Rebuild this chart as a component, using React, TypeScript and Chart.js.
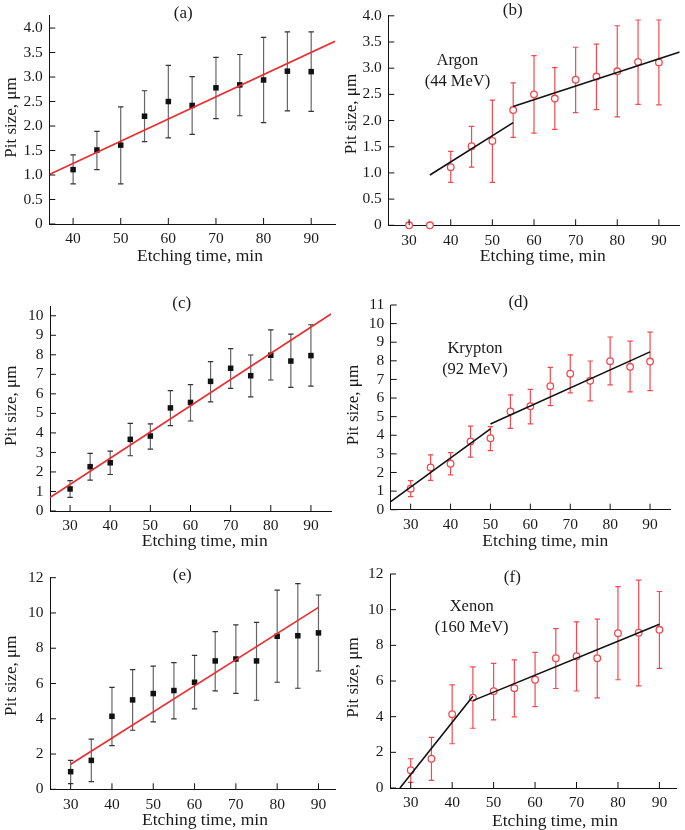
import React, { useEffect, useRef } from 'react';
import { Chart, registerables } from 'chart.js';
Chart.register(...registerables);

// ---------- DATA ----------
// Argon (44 MeV)
const argonTime = [40, 45, 50, 55, 60, 65, 70, 75, 80, 85, 90];
const argonSize = [1.11, 1.51, 1.61, 2.2, 2.5, 2.42, 2.78, 2.84, 2.94, 3.12, 3.11];
const argonUpper = [1.41, 1.89, 2.39, 2.72, 3.24, 3.01, 3.4, 3.46, 3.81, 3.92, 3.92];
const argonLower = [0.82, 1.11, 0.82, 1.68, 1.76, 1.83, 2.15, 2.21, 2.07, 2.31, 2.3];
const argonZeroTime = [30, 35];
const argonZeroSize = [0, 0];
const argonFitX = [35, 95];
const argonFitY = [1.01, 3.73];
const argonSeg1X = [35, 55];
const argonSeg1Y = [0.96, 1.96];
const argonSeg2X = [55, 95];
const argonSeg2Y = [2.27, 3.31];

// Krypton (92 MeV)
const kryptonTime = [30, 35, 40, 45, 50, 55, 60, 65, 70, 75, 80, 85, 90];
const kryptonSize = [1.13, 2.27, 2.47, 3.67, 3.84, 5.28, 5.56, 6.64, 7.31, 6.93, 7.98, 7.68, 7.96];
const kryptonUpper = [1.56, 2.95, 3.07, 4.49, 4.46, 6.17, 6.47, 7.65, 8.32, 7.99, 9.28, 9.06, 9.54];
const kryptonLower = [0.7, 1.58, 1.87, 2.83, 3.17, 4.37, 4.61, 5.59, 6.28, 5.85, 6.71, 6.33, 6.4];
const kryptonFitX = [25, 95];
const kryptonFitY = [0.69, 10.09];
const kryptonSeg1X = [25, 50];
const kryptonSeg1Y = [0.43, 4.34];
const kryptonSeg2X = [50, 90];
const kryptonSeg2Y = [4.61, 8.48];

// Xenon (160 MeV)
const xenonTime = [30, 35, 40, 45, 50, 55, 60, 65, 70, 75, 80, 85, 90];
const xenonSize = [1.0, 1.64, 4.14, 5.07, 5.43, 5.6, 6.07, 7.28, 7.39, 7.28, 8.68, 8.71, 8.87];
const xenonUpper = [1.64, 2.84, 5.78, 6.79, 6.99, 7.18, 7.6, 8.94, 9.32, 9.47, 11.29, 11.66, 11.02];
const xenonLower = [0.32, 0.43, 2.48, 3.35, 3.82, 3.99, 4.56, 5.58, 5.44, 5.05, 6.07, 5.73, 6.71];
const xenonFitX = [30, 90];
const xenonFitY = [1.42, 10.32];
const xenonSeg1X = [27.4, 45];
const xenonSeg1Y = [0, 5.14];
const xenonSeg2X = [45, 90];
const xenonSeg2Y = [4.9, 9.18];

// Ticks
const xTicksA = [40, 50, 60, 70, 80, 90];
const xTicksRest = [30, 40, 50, 60, 70, 80, 90];
const yTicksAB = [0, 0.5, 1, 1.5, 2, 2.5, 3, 3.5, 4];
const yLabelsAB = ['0', '0.5', '1.0', '1.5', '2.0', '2.5', '3.0', '3.5', '4.0'];
const yTicksC = [0, 1, 2, 3, 4, 5, 6, 7, 8, 9, 10];
const yLabelsC = ['0', '1', '2', '3', '4', '5', '6', '7', '8', '9', '10'];
const yTicksD = [0, 1, 2, 3, 4, 5, 6, 7, 8, 9, 10, 11];
const yLabelsD = ['0', '1', '2', '3', '4', '5', '6', '7', '8', '9', '10', '11'];
const yTicksEF = [0, 2, 4, 6, 8, 10, 12];
const yLabelsEF = ['0', '2', '4', '6', '8', '10', '12'];

const xTitle = 'Etching time, min';
const yTitle = 'Pit size, μm';

// ---------- STYLE ----------
const FONT = "'Liberation Serif', 'Times New Roman', serif";
const RED_LINE = '#ec2b2f';
const RED_BAR = '#f04a50';
const BLACK = '#111111';
const GREY_BAR = '#666666';
const GREY_CAP = '#333333';

const zip = (xs: number[], ys: number[]) => xs.map((x, i) => ({ x, y: ys[i] }));

type Note = { text: string; x: number; y: number };
type Panel = {
  letter: string;
  box: [number, number, number, number];
  area: [number, number, number, number];
  xMin: number; xMax: number; yMax: number;
  xTicks: number[]; yTicks: number[]; yLabels: string[];
  points: { x: number; y: number }[];
  errX: number[]; errHi: number[]; errLo: number[];
  filled: boolean;
  lines: { x: number; y: number }[][];
  lineColor: string;
  letterPos: [number, number];
  xTitlePos: [number, number];
  yTitlePos: [number, number];
  notes: Note[];
};

const panels: Panel[] = [
  {
    letter: '(a)', box: [0, 0, 342, 270], area: [49.3, 15, 335, 224],
    xMin: 35, xMax: 95, yMax: 4.25, xTicks: xTicksA, yTicks: yTicksAB, yLabels: yLabelsAB,
    points: zip(argonTime, argonSize), errX: argonTime, errHi: argonUpper, errLo: argonLower,
    filled: true, lines: [zip(argonFitX, argonFitY)], lineColor: RED_LINE,
    letterPos: [183.3, 13.5], xTitlePos: [200, 256.7], yTitlePos: [11.7, 117.5], notes: [],
  },
  {
    letter: '(b)', box: [342, 0, 343, 270], area: [388.3, 10.7, 681.7, 225.3],
    xMin: 25, xMax: 95, yMax: 4, xTicks: xTicksRest, yTicks: yTicksAB, yLabels: yLabelsAB,
    points: [...zip(argonZeroTime, argonZeroSize), ...zip(argonTime, argonSize)],
    errX: argonTime, errHi: argonUpper, errLo: argonLower,
    filled: false, lines: [zip(argonSeg1X, argonSeg1Y), zip(argonSeg2X, argonSeg2Y)], lineColor: BLACK,
    letterPos: [512.7, 10.5], xTitlePos: [542.8, 256.7], yTitlePos: [351.7, 114],
    notes: [{ text: 'Argon', x: 41.6, y: 3.14 }, { text: '(44 MeV)', x: 41.6, y: 2.74 }],
  },
  {
    letter: '(c)', box: [0, 270, 342, 280], area: [50, 306, 331, 511],
    xMin: 25, xMax: 95, yMax: 10.5, xTicks: xTicksRest, yTicks: yTicksC, yLabels: yLabelsC,
    points: zip(kryptonTime, kryptonSize), errX: kryptonTime, errHi: kryptonUpper, errLo: kryptonLower,
    filled: true, lines: [zip(kryptonFitX, kryptonFitY)], lineColor: RED_LINE,
    letterPos: [181.7, 304], xTitlePos: [204.7, 541.7], yTitlePos: [11.7, 405.8], notes: [],
  },
  {
    letter: '(d)', box: [342, 270, 343, 280], area: [390.7, 305, 670, 509.7],
    xMin: 25, xMax: 95, yMax: 11, xTicks: xTicksRest, yTicks: yTicksD, yLabels: yLabelsD,
    points: zip(kryptonTime, kryptonSize), errX: kryptonTime, errHi: kryptonUpper, errLo: kryptonLower,
    filled: false, lines: [zip(kryptonSeg1X, kryptonSeg1Y), zip(kryptonSeg2X, kryptonSeg2Y)], lineColor: BLACK,
    letterPos: [518.3, 302.7], xTitlePos: [545.3, 541.7], yTitlePos: [353.3, 405],
    notes: [{ text: 'Krypton', x: 46.1, y: 8.64 }, { text: '(92 MeV)', x: 46.1, y: 7.51 }],
  },
  {
    letter: '(e)', box: [0, 550, 342, 280], area: [50, 577.7, 335, 789.3],
    xMin: 25, xMax: 94, yMax: 12, xTicks: xTicksRest, yTicks: yTicksEF, yLabels: yLabelsEF,
    points: zip(xenonTime, xenonSize), errX: xenonTime, errHi: xenonUpper, errLo: xenonLower,
    filled: true, lines: [zip(xenonFitX, xenonFitY)], lineColor: RED_LINE,
    letterPos: [182.3, 575.7], xTitlePos: [205, 820], yTitlePos: [11.7, 675.8], notes: [],
  },
  {
    letter: '(f)', box: [342, 550, 343, 280], area: [390, 574, 676, 788],
    xMin: 25, xMax: 94, yMax: 12, xTicks: xTicksRest, yTicks: yTicksEF, yLabels: yLabelsEF,
    points: zip(xenonTime, xenonSize), errX: xenonTime, errHi: xenonUpper, errLo: xenonLower,
    filled: false, lines: [zip(xenonSeg1X, xenonSeg1Y), zip(xenonSeg2X, xenonSeg2Y)], lineColor: BLACK,
    letterPos: [512.3, 577.7], xTitlePos: [555, 821.7], yTitlePos: [353.3, 677.5],
    notes: [{ text: 'Xenon', x: 44.7, y: 10.17 }, { text: '(160 MeV)', x: 44.7, y: 8.99 }],
  },
];

const CAP = 2.7;
const TICK_LEN = 6;

function PanelChart({ p }: { p: Panel }) {
  const ref = useRef<HTMLCanvasElement>(null);
  const [cx, cy, cw, ch] = p.box;
  useEffect(() => {
    const [L, T, R, B] = p.area;
    const yAxisW = L - cx;
    const padTop = T - cy;
    const padRight = cx + cw - R;
    const xAxisH = cy + ch - B;
    const barColor = p.filled ? GREY_BAR : RED_BAR;
    const capColor = p.filled ? GREY_CAP : RED_BAR;

    const decor = {
      id: 'decor',
      beforeDatasetsDraw(chart: any) {
        const ctx = chart.ctx;
        const xs = chart.scales.x;
        const ys = chart.scales.y;
        ctx.save();
        ctx.lineWidth = 1.2;
        p.errX.forEach((t, i) => {
          const px = xs.getPixelForValue(t);
          const y1 = ys.getPixelForValue(p.errHi[i]);
          const y2 = ys.getPixelForValue(p.errLo[i]);
          ctx.strokeStyle = barColor;
          ctx.beginPath();
          ctx.moveTo(px, y1); ctx.lineTo(px, y2);
          ctx.stroke();
          ctx.strokeStyle = capColor;
          ctx.beginPath();
          ctx.moveTo(px - CAP, y1); ctx.lineTo(px + CAP, y1);
          ctx.moveTo(px - CAP, y2); ctx.lineTo(px + CAP, y2);
          ctx.stroke();
        });
        ctx.restore();
      },
      afterDraw(chart: any) {
        const ctx = chart.ctx;
        const xs = chart.scales.x;
        const ys = chart.scales.y;
        const area = chart.chartArea;
        ctx.save();
        // inward tick marks
        ctx.strokeStyle = BLACK;
        ctx.lineWidth = 1;
        ctx.beginPath();
        p.xTicks.forEach((v) => {
          const px = xs.getPixelForValue(v);
          ctx.moveTo(px, area.bottom); ctx.lineTo(px, area.bottom - TICK_LEN);
        });
        p.yTicks.forEach((v) => {
          const py = ys.getPixelForValue(v);
          ctx.moveTo(area.left, py); ctx.lineTo(area.left + TICK_LEN, py);
        });
        ctx.stroke();
        // texts
        ctx.fillStyle = '#1a1a1a';
        ctx.textAlign = 'center';
        ctx.textBaseline = 'middle';
        ctx.font = `17px ${FONT}`;
        ctx.fillText(p.letter, p.letterPos[0] - cx, p.letterPos[1] - cy);
        ctx.font = `17.5px ${FONT}`;
        ctx.fillText(xTitle, p.xTitlePos[0] - cx, p.xTitlePos[1] - cy);
        ctx.save();
        ctx.translate(p.yTitlePos[0] - cx, p.yTitlePos[1] - cy);
        ctx.rotate(-Math.PI / 2);
        ctx.font = `17px ${FONT}`;
        ctx.fillText(yTitle, 0, 0);
        ctx.restore();
        ctx.font = `16.5px ${FONT}`;
        p.notes.forEach((n) => {
          ctx.fillText(n.text, xs.getPixelForValue(n.x), ys.getPixelForValue(n.y));
        });
        ctx.restore();
      },
    };

    const datasets: any[] = [
      ...p.lines.map((ln) => ({
        data: ln,
        borderColor: p.lineColor,
        borderWidth: 1.6,
        pointRadius: 0,
        fill: false,
        tension: 0,
      })),
      {
        data: p.points,
        showLine: false,
        pointStyle: p.filled ? 'rect' : 'circle',
        pointRadius: p.filled ? 3.9 : 3.3,
        pointBackgroundColor: p.filled ? BLACK : '#ffffff',
        pointBorderColor: p.filled ? BLACK : RED_BAR,
        pointBorderWidth: p.filled ? 0 : 1.3,
        clip: false,
      },
    ];

    const chart = new Chart(ref.current as HTMLCanvasElement, {
      type: 'line',
      data: { datasets },
      options: {
        responsive: false,
        maintainAspectRatio: false,
        animation: false,
        events: [],
        layout: { padding: { top: padTop, right: padRight, left: 0, bottom: 0 } },
        plugins: { legend: { display: false }, tooltip: { enabled: false } },
        scales: {
          x: {
            type: 'linear',
            min: p.xMin,
            max: p.xMax,
            afterBuildTicks: (axis: any) => { axis.ticks = p.xTicks.map((v) => ({ value: v })); },
            afterFit: (axis: any) => { axis.height = xAxisH; },
            grid: { display: true, drawOnChartArea: false, drawTicks: false },
            border: { display: true, color: BLACK, width: 1 },
            ticks: {
              autoSkip: false, maxRotation: 0, padding: 6, color: '#1a1a1a',
              font: { family: FONT, size: 15.5 },
              callback: (v: any) => String(v),
            },
          },
          y: {
            type: 'linear',
            min: 0,
            max: p.yMax,
            afterBuildTicks: (axis: any) => { axis.ticks = p.yTicks.map((v) => ({ value: v })); },
            afterFit: (axis: any) => { axis.width = yAxisW; },
            grid: { display: true, drawOnChartArea: false, drawTicks: false },
            border: { display: true, color: BLACK, width: 1 },
            ticks: {
              autoSkip: false, padding: 6.5, color: '#1a1a1a',
              font: { family: FONT, size: 15.5 },
              callback: (_v: any, i: number) => p.yLabels[i],
            },
          },
        },
      } as any,
      plugins: [decor],
    });
    return () => chart.destroy();
  }, [p]);
  return (
    <canvas
      ref={ref}
      width={cw}
      height={ch}
      style={{ position: 'absolute', left: cx, top: cy, width: cw, height: ch }}
    />
  );
}

export default function App() {
  return (
    <div style={{ position: 'absolute', left: 0, top: 0, width: 685, height: 830, background: '#ffffff' }}>
      {panels.map((p) => (
        <PanelChart key={p.letter} p={p} />
      ))}
    </div>
  );
}
